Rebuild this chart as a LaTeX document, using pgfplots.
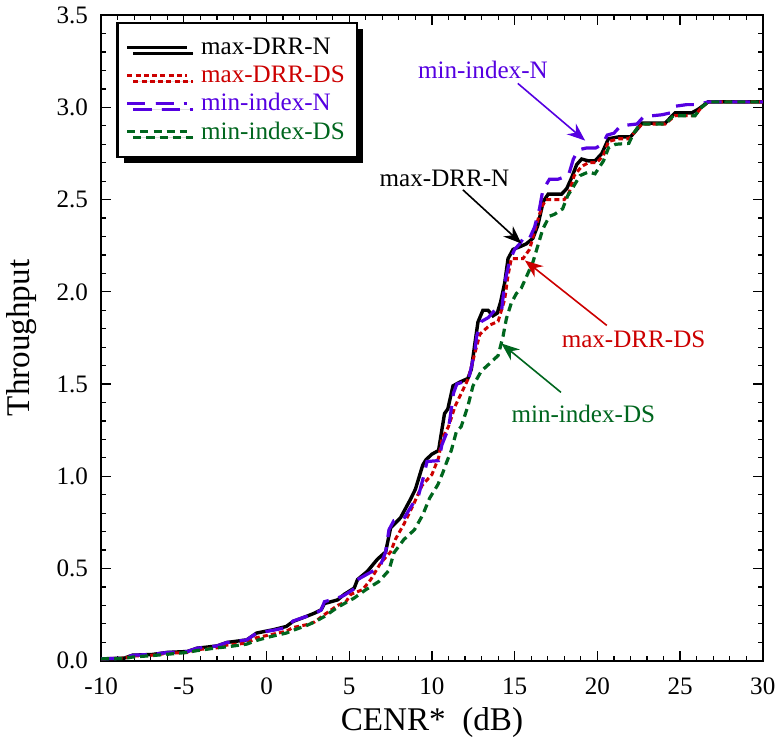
\documentclass[border=0pt]{standalone}
\usepackage{fontspec}
\setmainfont{Liberation Serif}
\usepackage{pgfplots}
\pgfplotsset{compat=1.18}
\usetikzlibrary{arrows.meta,shadows}
\definecolor{cred}{RGB}{204,0,0}
\definecolor{cblue}{RGB}{85,0,225}
\definecolor{cgreen}{RGB}{0,102,30}
\begin{document}
\begin{tikzpicture}
\begin{axis}[
  scale only axis, width=329.5pt, height=321.5pt,
  xmin=-10, xmax=30, ymin=0, ymax=3.5,
  xtick={-10,-5,...,30}, ytick={0,0.5,...,3.5},
  minor x tick num=4, minor y tick num=4,
  tick align=inside, major tick length=5pt, minor tick length=2.5pt,
  xtick pos=both, ytick pos=both, xticklabel pos=lower, yticklabel pos=left,
  axis line style={line width=1pt},
  every tick/.style={black, line width=0.6pt},
  /pgf/number format/assume math mode=true,
  yticklabel style={/pgf/number format/fixed,/pgf/number format/fixed zerofill,/pgf/number format/precision=1, xshift=-3pt},
  xticklabel style={yshift=-5pt},
  tick label style={font=\fontsize{12.5}{14}\selectfont},
  label style={font=\fontsize{16.5}{19}\selectfont},
  xlabel={CENR*\ \ (dB)}, ylabel={Throughput},
  xlabel style={at={(axis description cs:0.5,-0.095)}, anchor=center},
  ylabel style={at={(axis description cs:-0.12,0.5)}, anchor=center},
  legend cell align=left,
  legend image code/.code={\draw[mark repeat=2,mark phase=2] plot coordinates {(0.1cm,0cm)(0.6cm,0cm)(1.15cm,0cm)};},
  legend style={at={(0.023,0.99)}, anchor=north west, draw=black, line width=1.3pt, fill=white,
    font=\fontsize{12.5}{13}\selectfont, inner xsep=4pt, inner ysep=5.5pt,
    drop shadow={shadow xshift=3pt, shadow yshift=-3pt, fill=black, opacity=1}},
]
\addplot[black, line width=1.7pt] coordinates {
(-10,0.01) (-8.6,0.014) (-8.1,0.03) (-6.9,0.034) (-6.0,0.045) (-4.8,0.05) (-4.2,0.068) (-3.0,0.08) (-2.4,0.099) (-1.2,0.113) (-0.6,0.15) (0.4,0.168) (1.2,0.186) (1.6,0.213) (2.4,0.24) (2.9,0.258) (3.3,0.276) (3.5,0.31) (4.3,0.33) (4.7,0.36) (5.3,0.394) (5.5,0.44) (6.1,0.485) (6.7,0.55) (7.2,0.59) (7.5,0.72) (8.1,0.775) (8.7,0.875) (9.0,0.93) (9.44,1.06) (9.64,1.09) (10.0,1.12) (10.4,1.14) (10.56,1.23) (10.76,1.34) (10.96,1.365) (11.27,1.49) (11.67,1.51) (12.17,1.53) (12.38,1.58) (12.58,1.71) (12.78,1.836) (13.08,1.90) (13.39,1.90) (13.69,1.87) (13.95,1.885) (14.15,1.945) (14.4,2.05) (14.6,2.18) (14.9,2.23) (15.3,2.244) (15.7,2.26) (16.1,2.29) (16.4,2.36) (16.73,2.49) (17.03,2.53) (17.84,2.53) (18.15,2.56) (18.45,2.62) (18.75,2.69) (19.05,2.72) (19.46,2.71) (19.86,2.71) (20.27,2.75) (20.67,2.83) (21.28,2.84) (22.0,2.84) (22.3,2.87) (22.7,2.915) (23.5,2.915) (24.1,2.915) (24.7,2.97) (25.3,2.97) (25.7,2.97) (26.1,2.99) (26.7,3.03) (30,3.03)
};
\addlegendentry{\hspace{4pt}max-DRR-N}
\addplot[cred, line width=1.5pt, dash pattern=on 2.5pt off 1.6pt] coordinates {
(-10,0.01) (-8.6,0.014) (-8.1,0.025) (-6.9,0.03) (-6.0,0.04) (-4.8,0.045) (-4.2,0.06) (-3.0,0.07) (-2.4,0.085) (-1.2,0.095) (-0.6,0.125) (0.2,0.14) (1.2,0.16) (1.6,0.18) (2.4,0.195) (2.9,0.21) (3.5,0.25) (4.3,0.30) (4.8,0.32) (5.1,0.36) (5.8,0.385) (6.3,0.44) (6.9,0.53) (7.5,0.59) (7.8,0.66) (8.3,0.74) (8.9,0.85) (9.4,0.95) (10.0,1.01) (10.4,1.10) (10.6,1.2) (11.0,1.27) (11.4,1.38) (11.8,1.455) (12.2,1.53) (12.6,1.67) (12.9,1.77) (13.5,1.82) (14.0,1.84) (14.4,1.96) (14.6,2.09) (14.8,2.18) (15.5,2.18) (15.9,2.23) (16.2,2.325) (16.5,2.42) (16.7,2.47) (16.9,2.50) (18.0,2.50) (18.3,2.54) (18.6,2.63) (19.05,2.68) (19.46,2.70) (19.96,2.70) (20.37,2.74) (20.67,2.815) (21.3,2.83) (21.9,2.83) (22.3,2.87) (22.7,2.91) (24.1,2.91) (24.7,2.955) (25.9,2.955) (26.2,2.99) (26.7,3.03) (30,3.03)
};
\addlegendentry{\hspace{4pt}\textcolor{cred}{max-DRR-DS}}
\addplot[cblue, line width=1.6pt, dash pattern=on 9pt off 5pt] coordinates {
(-10,0.01) (-8.6,0.014) (-8.1,0.03) (-6.9,0.034) (-6.0,0.045) (-4.8,0.05) (-4.2,0.068) (-3.0,0.08) (-2.4,0.099) (-1.2,0.113) (-0.6,0.15) (0.4,0.165) (1.2,0.18) (1.6,0.215) (2.4,0.24) (2.9,0.255) (3.3,0.275) (3.5,0.32) (4.3,0.34) (4.7,0.355) (5.3,0.39) (5.5,0.44) (6.0,0.465) (6.5,0.49) (6.9,0.52) (7.2,0.59) (7.4,0.71) (7.7,0.76) (8.3,0.77) (8.7,0.83) (9.2,0.9) (9.5,1.0) (9.7,1.08) (10.4,1.085) (10.6,1.17) (11.0,1.26) (11.1,1.32) (11.3,1.45) (11.5,1.50) (12.2,1.52) (12.4,1.60) (12.6,1.68) (12.7,1.76) (13.0,1.84) (13.4,1.86) (13.8,1.90) (14.2,1.89) (14.4,2.05) (14.7,2.17) (15.0,2.23) (15.3,2.26) (15.6,2.30) (15.9,2.29) (16.2,2.35) (16.5,2.45) (16.7,2.55) (17.1,2.61) (17.6,2.61) (18.25,2.63) (18.55,2.72) (18.85,2.77) (19.35,2.78) (19.9,2.78) (20.3,2.80) (20.6,2.85) (21.0,2.86) (21.4,2.90) (22.4,2.91) (22.8,2.95) (23.9,2.96) (24.4,2.97) (24.6,3.005) (25.4,3.015) (26.1,3.015) (26.7,3.03) (30,3.03)
};
\addlegendentry{\hspace{4pt}\textcolor{cblue}{min-index-N}}
\addplot[cgreen, line width=1.6pt, dash pattern=on 4pt off 2.5pt] coordinates {
(-10,0.01) (-8.6,0.012) (-8.1,0.02) (-6.9,0.028) (-6.0,0.035) (-4.8,0.045) (-4.2,0.055) (-3.0,0.07) (-2.4,0.075) (-1.2,0.09) (-0.6,0.11) (0.2,0.13) (1.2,0.15) (1.6,0.165) (2.4,0.19) (2.9,0.21) (3.5,0.24) (4.3,0.29) (5.3,0.34) (6.0,0.385) (6.8,0.43) (7.4,0.49) (7.7,0.585) (8.3,0.657) (8.94,0.71) (9.44,0.79) (9.85,0.88) (10.36,0.955) (10.66,1.02) (10.86,1.07) (11.17,1.14) (11.47,1.24) (11.77,1.27) (12.17,1.38) (12.48,1.49) (12.98,1.57) (13.59,1.62) (14.0,1.655) (14.3,1.76) (14.5,1.855) (14.8,1.94) (15.1,1.99) (15.4,2.02) (15.7,2.08) (16.1,2.16) (16.4,2.25) (16.7,2.34) (17.1,2.41) (17.4,2.42) (17.9,2.45) (18.2,2.52) (18.55,2.57) (18.95,2.63) (19.46,2.65) (19.86,2.64) (20.37,2.71) (20.67,2.78) (21.1,2.80) (21.9,2.805) (22.2,2.86) (22.5,2.90) (22.7,2.91) (24.1,2.91) (24.6,2.955) (25.9,2.955) (26.3,3.0) (26.7,3.03) (30,3.03)
};
\addlegendentry{\hspace{4pt}\textcolor{cgreen}{min-index-DS}}
\draw[cblue, line width=0.8pt, -{Stealth[length=9pt,width=7pt]}] (axis cs:15.19,3.13) -- (axis cs:19.26,2.82);
\node[cblue, font=\fontsize{12.5}{14}\selectfont] at (axis cs:13.08,3.205) {min-index-N};
\draw[black, line width=0.8pt, -{Stealth[length=9pt,width=7pt]}] (axis cs:11.87,2.553) -- (axis cs:15.41,2.262);
\node[black, font=\fontsize{12.5}{14}\selectfont] at (axis cs:10.76,2.616) {max-DRR-N};
\draw[cred, line width=0.8pt, -{Stealth[length=9pt,width=7pt]}] (axis cs:20.57,1.818) -- (axis cs:15.62,2.17);
\node[cred, font=\fontsize{12.5}{14}\selectfont] at (axis cs:22.19,1.74) {max-DRR-DS};
\draw[cgreen, line width=0.8pt, -{Stealth[length=9pt,width=7pt]}] (axis cs:17.8,1.455) -- (axis cs:14.2,1.72);
\node[cgreen, font=\fontsize{12.5}{14}\selectfont] at (axis cs:19.15,1.337) {min-index-DS};
\end{axis}
\end{tikzpicture}
\end{document}
